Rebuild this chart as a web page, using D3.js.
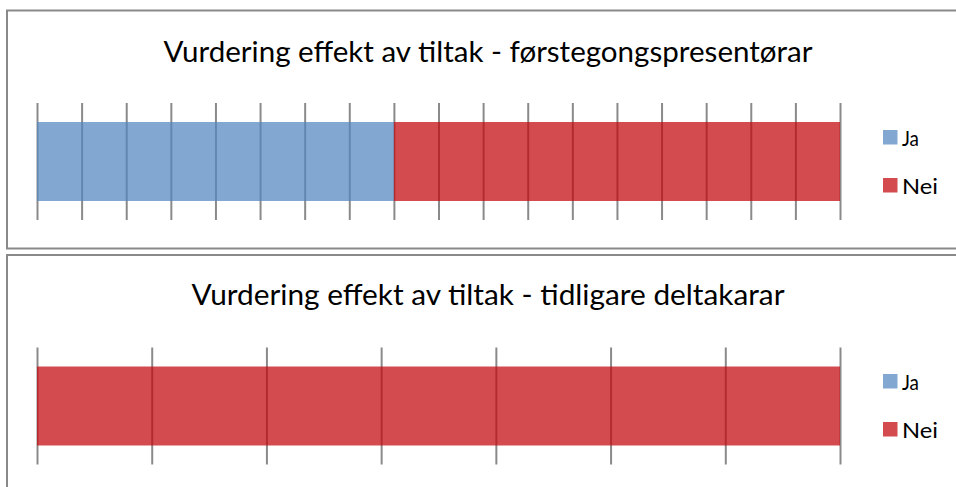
<!DOCTYPE html>
<html>
<head>
<meta charset="utf-8">
<script src="https://cdn.jsdelivr.net/npm/d3@7"></script>
<style>
  html, body { margin: 0; padding: 0; background: #fff; }
  svg { display: block; }
  text { font-family: "Lato", "Open Sans", sans-serif; fill: #000; }
</style>
</head>
<body>
<svg id="chart" width="956" height="487"></svg>
<script>
// ---- data ----
const categories = ["Ja", "Nei"];
const titles = [
  "Vurdering effekt av tiltak - førstegongspresentørar",
  "Vurdering effekt av tiltak - tidligare deltakarar"
];
const firstTimeValues = [8, 10];   // Ja, Nei
const previousValues = [0, 7];     // Ja, Nei
const seriesColors = ["rgb(84,134,192)", "rgb(195,8,13)"];

const panelsData = [firstTimeValues, previousValues];

const svg = d3.select("#chart");
const panelTops = [10.5, 255];
const panelBottoms = [248.5, 520];
const titleWidths = [649, 593];

const plotLeft = 37, plotRight = 840;

panelsData.forEach((vals, pi) => {
  const top = panelTops[pi];
  const g = svg.append("g");

  // panel frame
  g.append("rect")
    .attr("x", 7).attr("y", top)
    .attr("width", 1000).attr("height", panelBottoms[pi] - top)
    .attr("fill", "#fff").attr("stroke", "#898989").attr("stroke-width", 2);

  // title
  g.append("text")
    .attr("x", 488).attr("y", top + (pi === 0 ? 51.5 : 50))
    .attr("text-anchor", "middle")
    .attr("font-size", 29)
    .attr("textLength", titleWidths[pi])
    .attr("lengthAdjust", "spacingAndGlyphs")
    .text(titles[pi]);

  const total = d3.sum(vals);
  const x = d3.scaleLinear().domain([0, total]).range([plotLeft, plotRight]);

  const barTop = top + 111.5, barH = 79;
  const gridTop = top + 92.5, gridBottom = top + 209.5;

  // gridlines (axis ticks, one per unit)
  const axis = d3.axisBottom(x)
    .ticks(total)
    .tickSize(gridBottom - gridTop)
    .tickFormat("");
  const ag = g.append("g").attr("transform", `translate(0,${gridTop})`).call(axis);
  ag.select(".domain").remove();
  ag.selectAll(".tick line").attr("stroke", "#8a8a8a").attr("stroke-width", 2);

  // stacked segments
  const stackData = [Object.fromEntries(categories.map((c, i) => [c, vals[i]]))];
  const stacked = d3.stack().keys(categories)(stackData);
  g.selectAll("rect.seg")
    .data(stacked)
    .join("rect")
    .attr("class", "seg")
    .attr("x", d => x(d[0][0]))
    .attr("width", d => x(d[0][1]) - x(d[0][0]))
    .attr("y", barTop)
    .attr("height", barH)
    .attr("fill", (d, i) => seriesColors[i])
    .attr("fill-opacity", 0.73);

  // legend
  const lg = g.append("g").attr("transform", `translate(883,${top + (pi === 0 ? 119.5 : 119)})`);
  categories.forEach((c, i) => {
    lg.append("rect")
      .attr("x", 0).attr("y", i * 48)
      .attr("width", 14.5).attr("height", 14.5)
      .attr("fill", seriesColors[i]).attr("fill-opacity", 0.73);
    lg.append("text")
      .attr("x", 19).attr("y", i * 48 + 15.5)
      .attr("font-size", 22)
      .attr("textLength", i === 0 ? 17 : 36)
      .attr("lengthAdjust", "spacingAndGlyphs")
      .text(c);
  });
});
</script>
</body>
</html>
